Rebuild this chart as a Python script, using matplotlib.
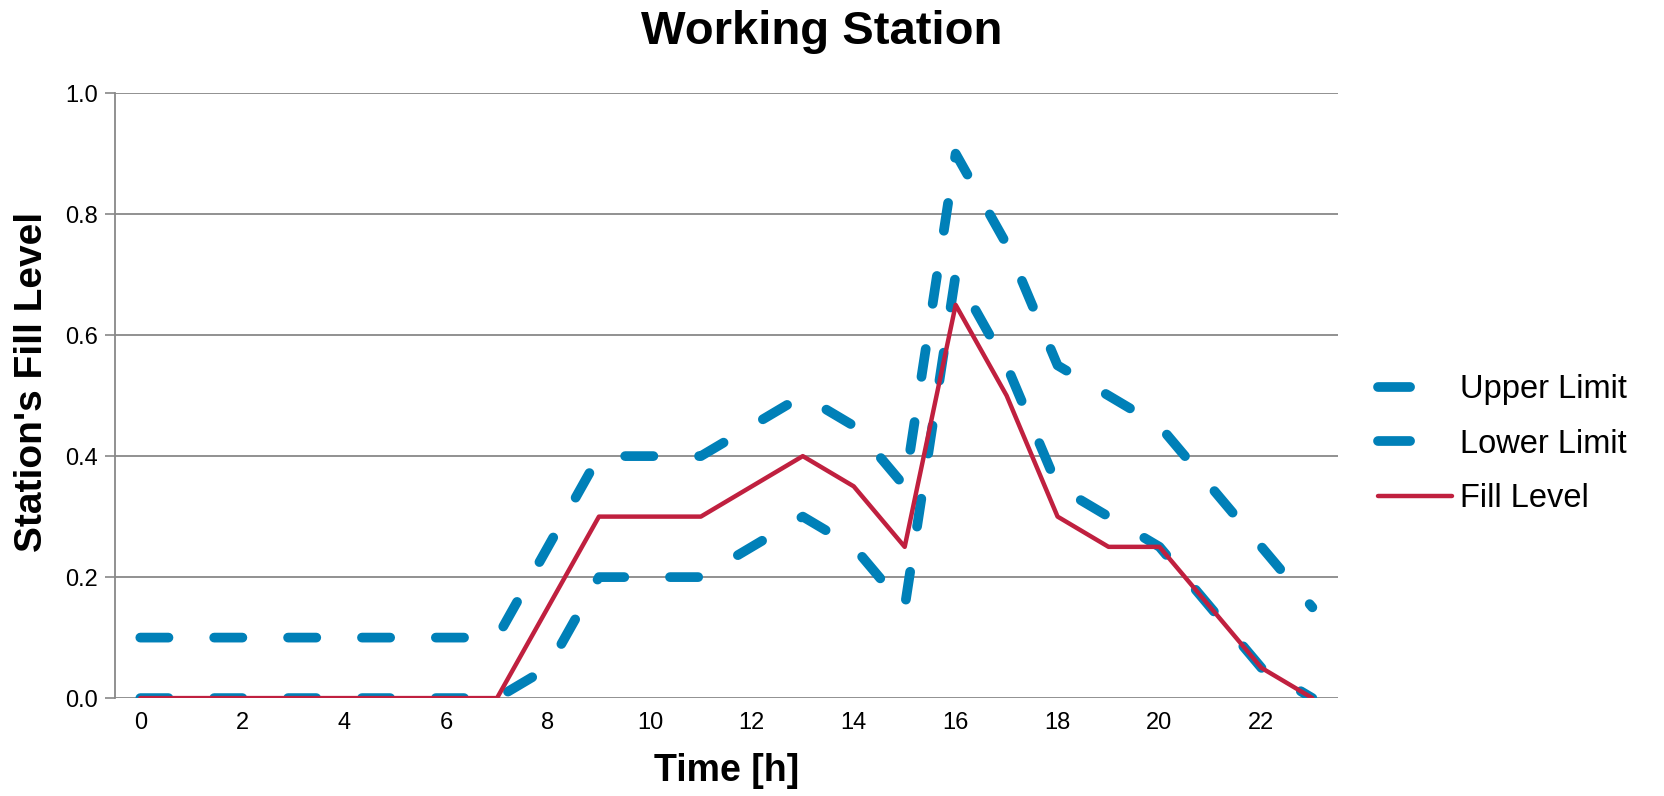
import numpy as np
import matplotlib.pyplot as plt

plt.rcParams['font.family'] = ['Liberation Sans', 'DejaVu Sans']

hours = list(range(24))
upper = [0.1, 0.1, 0.1, 0.1, 0.1, 0.1, 0.1, 0.1, 0.25, 0.4, 0.4, 0.4,
         0.45, 0.5, 0.45, 0.35, 0.9, 0.75, 0.55, 0.5, 0.45, 0.35, 0.25, 0.15]
lower = [0.0, 0.0, 0.0, 0.0, 0.0, 0.0, 0.0, 0.0, 0.05, 0.2, 0.2, 0.2,
         0.25, 0.3, 0.25, 0.15, 0.7, 0.55, 0.35, 0.3, 0.25, 0.15, 0.05, 0.0]
fill = [0.0, 0.0, 0.0, 0.0, 0.0, 0.0, 0.0, 0.0, 0.15, 0.3, 0.3, 0.3,
        0.35, 0.4, 0.35, 0.25, 0.65, 0.5, 0.3, 0.25, 0.25, 0.15, 0.05, 0.0]

blue = '#0080b8'
red = '#c0203f'
dash = (2.9, 4.7)

fig = plt.figure(figsize=(16.64, 7.96), dpi=100)
ax = fig.add_axes([0.069, 0.123, 0.735, 0.76])

ax.plot(hours, upper, color=blue, lw=7, dashes=dash,
        dash_capstyle='round', label='Upper Limit', zorder=3)
ax.plot(hours, lower, color=blue, lw=7, dashes=dash,
        dash_capstyle='round', label='Lower Limit', zorder=3)
ax.plot(hours, fill, color=red, lw=3.2, solid_capstyle='round',
        label='Fill Level', zorder=4)

ax.set_xlim(-0.5, 23.5)
ax.set_ylim(0, 1.0)
ax.set_xticks(range(0, 24, 2))
ax.set_yticks(np.arange(0, 1.01, 0.2))
ax.yaxis.set_major_formatter(plt.FormatStrFormatter('%.1f'))
ax.tick_params(axis='x', length=0, labelsize=17, pad=10)
ax.tick_params(axis='y', length=7, width=1.2, color='#888888', labelsize=17, pad=5)
ax.grid(axis='y', color='#888888', lw=1.3, zorder=0)
for s in ['top', 'right', 'bottom']:
    ax.spines[s].set_visible(False)
ax.spines['left'].set_color('#888888')
ax.spines['left'].set_linewidth(1.3)

fig.suptitle('Working Station', x=0.494, y=0.96, va='center',
             fontsize=34, fontweight='bold')
ax.set_xlabel('Time [h]', fontsize=27, fontweight='bold', labelpad=14)
ax.set_ylabel("Station's Fill Level", fontsize=28, fontweight='bold')
ax.yaxis.set_label_coords(-0.053, 0.523)

leg = ax.legend(loc='center left', bbox_to_anchor=(1.009, 0.42), frameon=False,
                fontsize=23.5, handlelength=2.25, handletextpad=0.25,
                labelspacing=0.72)
# show a single dash for the limit entries
for ln in leg.get_lines()[:2]:
    ln.set_dashes((3.3, 12))

fig.savefig('out.png', dpi=100)
